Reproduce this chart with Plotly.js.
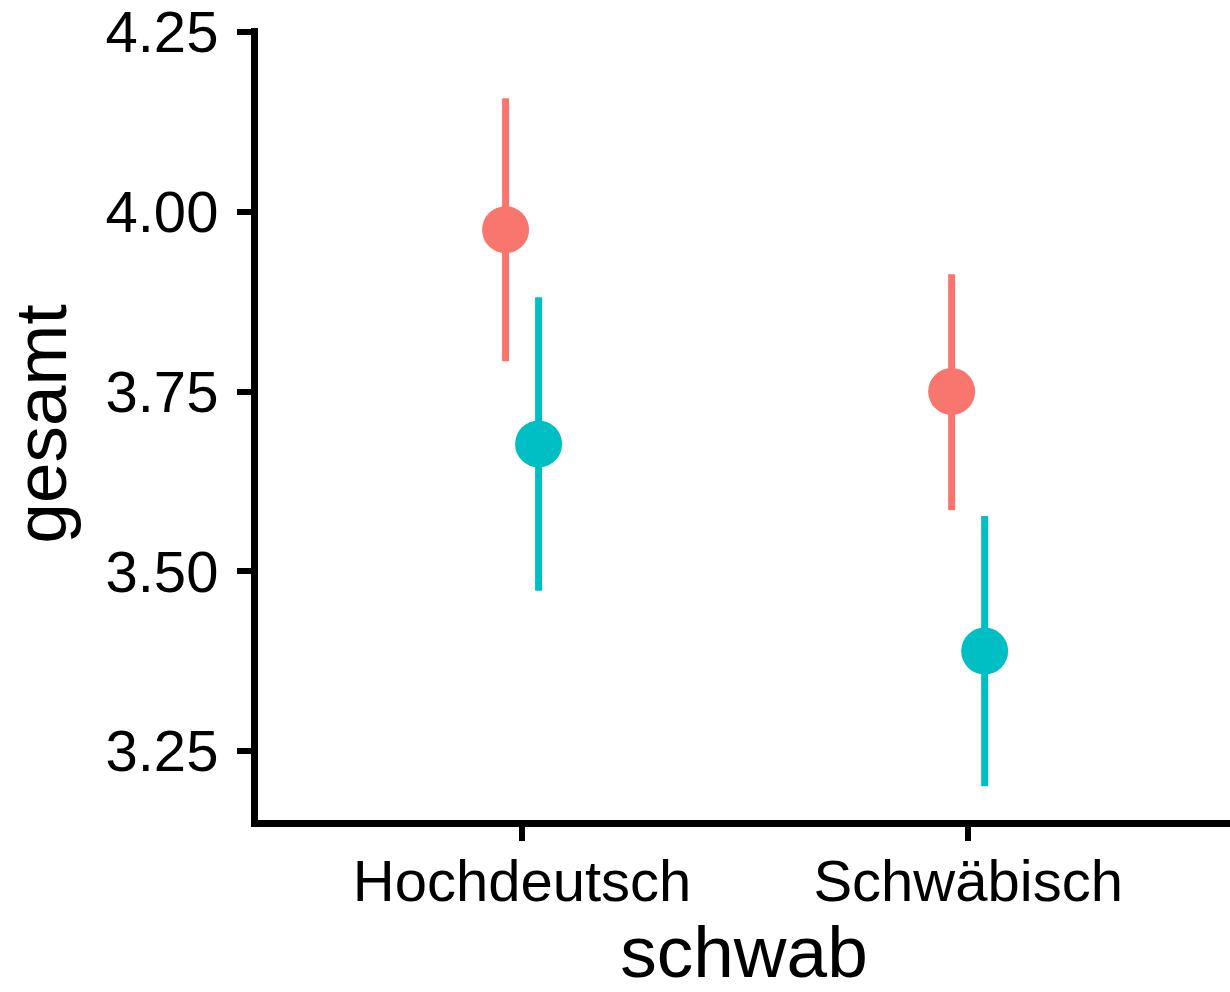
<!DOCTYPE html>
<html>
<head>
<meta charset="utf-8">
<script src="https://cdn.plot.ly/plotly-3.0.1.min.js"></script>
<style>html,body{margin:0;padding:0;background:#fff;}#chart{width:1230px;height:992px;}</style>
</head>
<body>
<div id="chart"></div>
<script>
// categories on the x axis (schwab)
var categories = ["Hochdeutsch", "Schwäbisch"];
// group 1 (red)
var redMean  = [3.975, 3.750];
var redLow   = [3.792, 3.585];
var redHigh  = [4.158, 3.913];
// group 2 (cyan)
var cyanMean = [3.677, 3.389];
var cyanLow  = [3.473, 3.201];
var cyanHigh = [3.881, 3.577];
// y tick labels
var yTicks = [3.25, 3.50, 3.75, 4.00, 4.25];
var yTickText = ["3.25", "3.50", "3.75", "4.00", "4.25"];

var dodge = 0.037;
var catPos = categories.map(function (c, i) { return i + 1; });

function makeTrace(mean, low, high, offset, color) {
  return {
    type: "scatter",
    mode: "markers",
    x: catPos.map(function (p) { return p + offset; }),
    y: mean,
    marker: { color: color, size: 47, line: { width: 0 } },
    error_y: {
      type: "data",
      symmetric: false,
      array: high.map(function (h, i) { return h - mean[i]; }),
      arrayminus: low.map(function (l, i) { return mean[i] - l; }),
      color: color,
      thickness: 7,
      width: 0
    },
    hoverinfo: "x+y",
    showlegend: false
  };
}

var data = [
  makeTrace(redMean, redLow, redHigh, -dodge, "#F8766D"),
  makeTrace(cyanMean, cyanLow, cyanHigh, dodge, "#00BFC4")
];

var fontFam = "Liberation Sans, Arial, Helvetica, sans-serif";

var layout = {
  width: 1230,
  height: 992,
  margin: { l: 258, r: 0, t: 28, b: 172, pad: 0 },
  paper_bgcolor: "#ffffff",
  plot_bgcolor: "#ffffff",
  font: { family: fontFam, color: "#000000" },
  xaxis: {
    range: [0.408, 2.587],
    tickvals: catPos,
    ticktext: categories,
    showgrid: false,
    zeroline: false,
    showline: true,
    linecolor: "#000000",
    linewidth: 7,
    ticks: "outside",
    ticklen: 14,
    tickwidth: 6,
    tickcolor: "#000000",
    ticklabelstandoff: -10,
    ticklabeloverflow: "allow",
    tickfont: { size: 58, family: fontFam, color: "#000000" },
    title: { text: "schwab", font: { size: 73, family: fontFam, color: "#000000" }, standoff: 14 },
    automargin: false,
    fixedrange: true
  },
  yaxis: {
    range: [3.154, 4.2556],
    tickvals: yTicks,
    ticktext: yTickText,
    showgrid: false,
    zeroline: false,
    showline: true,
    linecolor: "#000000",
    linewidth: 7,
    ticks: "outside",
    ticklen: 14,
    tickwidth: 6,
    tickcolor: "#000000",
    ticklabelstandoff: 7,
    ticklabeloverflow: "allow",
    tickfont: { size: 58, family: fontFam, color: "#000000" },
    title: { text: "gesamt", font: { size: 73, family: fontFam, color: "#000000" }, standoff: 19 },
    automargin: false,
    fixedrange: true
  }
};

Plotly.newPlot("chart", data, layout, { displayModeBar: false, staticPlot: true });
</script>
</body>
</html>
